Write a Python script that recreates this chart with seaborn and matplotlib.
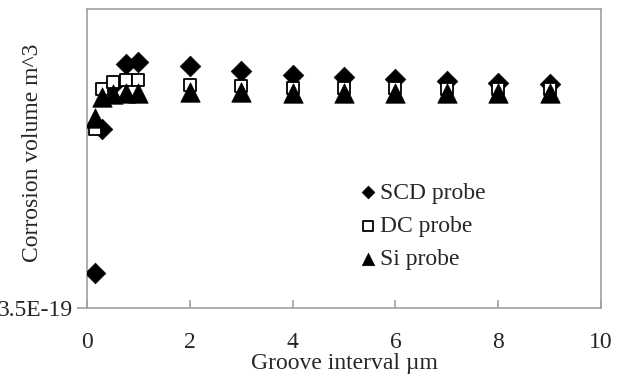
import matplotlib
matplotlib.use("Agg")
import matplotlib.pyplot as plt
import seaborn as sns
import pandas as pd

# Data
groove_interval = [0.15, 0.3, 0.5, 0.75, 1, 2, 3, 4, 5, 6, 7, 8, 9]
scd_probe = [3.5353e-19, 3.6797e-19, 3.7230e-19, 3.7447e-19, 3.7460e-19, 3.7423e-19,
             3.7370e-19, 3.7337e-19, 3.7313e-19, 3.7290e-19, 3.7273e-19, 3.7257e-19, 3.7247e-19]
dc_probe = [3.6797e-19, 3.7192e-19, 3.7265e-19, 3.7280e-19, 3.7280e-19, 3.7230e-19,
            3.7220e-19, 3.7207e-19, 3.7202e-19, 3.7200e-19, 3.7197e-19, 3.7195e-19, 3.7193e-19]
si_probe = [3.6905e-19, 3.7110e-19, 3.7147e-19, 3.7150e-19, 3.7150e-19, 3.7160e-19,
            3.7160e-19, 3.7155e-19, 3.7155e-19, 3.7155e-19, 3.7155e-19, 3.7155e-19, 3.7155e-19]
series_names = ["SCD probe", "DC probe", "Si probe"]
x_ticks = [0, 2, 4, 6, 8, 10]
y_ticks = [3.5e-19]
y_tick_labels = ["3.5E-19"]
x_label = "Groove interval µm"
y_label = "Corrosion volume m^3"

sns.set_style("white")
plt.rcParams["font.family"] = ["Liberation Serif", "DejaVu Serif"]
FS = 17

fig = plt.figure(figsize=(6.27, 3.76), dpi=100)
W, H = 627, 376
ax = fig.add_axes([87 / W, 1 - 308 / H, (601 - 87) / W, (308 - 8.5) / H])

df = pd.DataFrame({"x": groove_interval, "scd": scd_probe, "dc": dc_probe, "si": si_probe})

sns.scatterplot(data=df, x="x", y="scd", ax=ax, marker="D", s=10.5 ** 2,
                color="black", edgecolor="black", linewidth=0.5, label=series_names[0], zorder=3)
sns.scatterplot(data=df, x="x", y="dc", ax=ax, marker="s", s=9.0 ** 2,
                facecolor="white", edgecolor="black", linewidth=1.3, label=series_names[1], zorder=4)
sns.scatterplot(data=df, x="x", y="si", ax=ax, marker="^", s=14 ** 2,
                color="black", edgecolor="black", linewidth=0.5, label=series_names[2], zorder=5)

ax.set_xlim(0, 10)
ax.set_ylim(3.5e-19, 3.8e-19)
ax.set_xticks(x_ticks)
ax.set_xticklabels([str(t) for t in x_ticks])
ax.set_yticks(y_ticks)
ax.set_yticklabels(y_tick_labels)

for sp in ax.spines.values():
    sp.set_color("#a0a0a0")
    sp.set_linewidth(1.2)

ax.tick_params(axis="x", direction="in", length=6, width=1.2, color="#a0a0a0",
               labelsize=FS, pad=17, top=False, bottom=True)
ax.tick_params(axis="y", direction="out", length=7, width=1.2, color="#a0a0a0",
               labelsize=FS, pad=3, left=True)

ax.set_xlabel(x_label, fontsize=FS, labelpad=0)
ax.set_ylabel(y_label, fontsize=FS)
ax.yaxis.set_label_coords(-44 / 514, 0.5175)

leg = ax.legend(loc="upper left", bbox_to_anchor=(356 / W, 1 - 182 / H),
                bbox_transform=fig.transFigure, frameon=False, fontsize=FS,
                handletextpad=0.0, labelspacing=0.5, handlelength=1.0,
                borderaxespad=0, borderpad=0)
for h, sz in zip(leg.legend_handles, [42, 58, 80]):
    h.set_sizes([sz])

fig.savefig("out.png", dpi=100)
